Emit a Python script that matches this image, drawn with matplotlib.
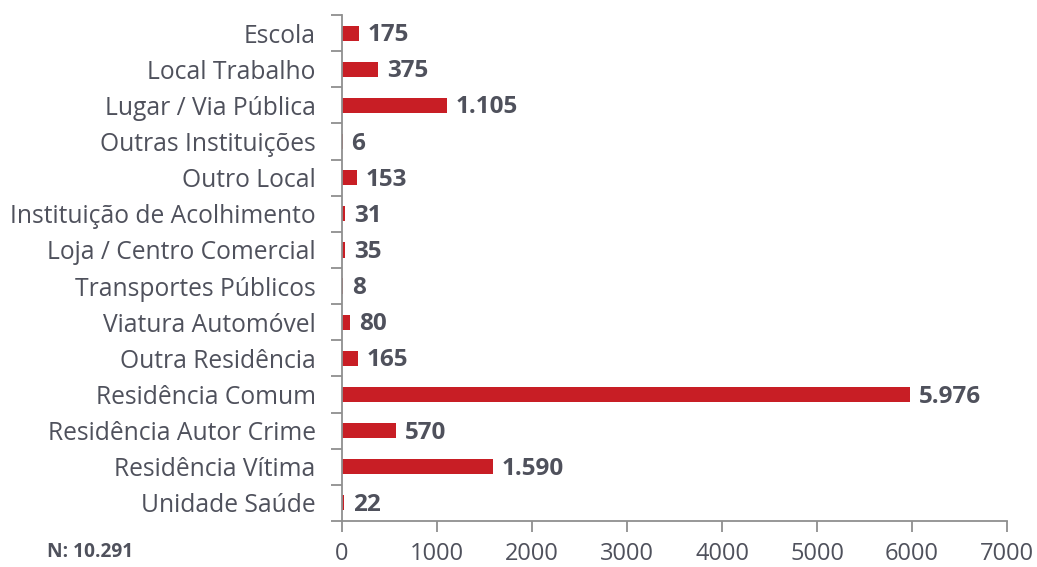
import numpy as np
import matplotlib
matplotlib.use('Agg')
import matplotlib.pyplot as plt

plt.rcParams['font.family'] = ['Open Sans', 'DejaVu Sans']

# dados (de cima para baixo)
locais = ['Escola', 'Local Trabalho', 'Lugar / Via Pública', 'Outras Instituições',
          'Outro Local', 'Instituição de Acolhimento', 'Loja / Centro Comercial',
          'Transportes Públicos', 'Viatura Automóvel', 'Outra Residência',
          'Residência Comum', 'Residência Autor Crime', 'Residência Vítima',
          'Unidade Saúde']
valores = [175, 375, 1105, 6, 153, 31, 35, 8, 80, 165, 5976, 570, 1590, 22]
total = 10291
xticks = [0, 1000, 2000, 3000, 4000, 5000, 6000, 7000]

cor_barra = '#c81e25'
cor_texto = '#4f515c'
cor_eixo = '#8f8f8f'

def fmt(v):
    return f'{v:,}'.replace(',', '.')

fig = plt.figure(figsize=(10.37, 5.67), dpi=100)
ax = fig.add_axes([0.3298, 0.0812, 0.6413, 0.8923])

y = np.arange(len(locais))
ax.barh(y, valores, height=0.42, color=cor_barra)

for yi, v in zip(y, valores):
    ax.annotate(fmt(v), (v, yi), xytext=(6.5, -1.5), textcoords='offset points',
                va='center', ha='left', fontsize=17.5, fontweight='bold', color=cor_texto)

ax.set_ylim(len(locais) - 0.5, -0.5)
ax.set_xlim(0, 7000)
ax.set_xticks(xticks)
ax.set_xticklabels([str(t) for t in xticks], fontsize=17, color=cor_texto)

# marcas nas fronteiras das categorias, rótulos no centro
ax.set_yticks(np.arange(-0.5, len(locais), 1))
ax.set_yticklabels([])
ax.set_yticks(y, minor=True)
ax.set_yticklabels(locais, minor=True, fontsize=17.7, color=cor_texto)
ax.tick_params(axis='y', which='minor', length=0, pad=19)
ax.tick_params(axis='y', which='major', length=8, width=1.3, color=cor_eixo, direction='out')
ax.tick_params(axis='x', length=8, width=1.3, color=cor_eixo, pad=7)

for s in ['top', 'right']:
    ax.spines[s].set_visible(False)
for s in ['left', 'bottom']:
    ax.spines[s].set_color(cor_eixo)
    ax.spines[s].set_linewidth(1.3)

fig.text(47 / 1037, 1 - 552 / 567, 'N: ' + fmt(total), fontsize=13.8, fontweight='bold',
         color=cor_texto, va='center', ha='left')

fig.savefig('out.png', dpi=100)
